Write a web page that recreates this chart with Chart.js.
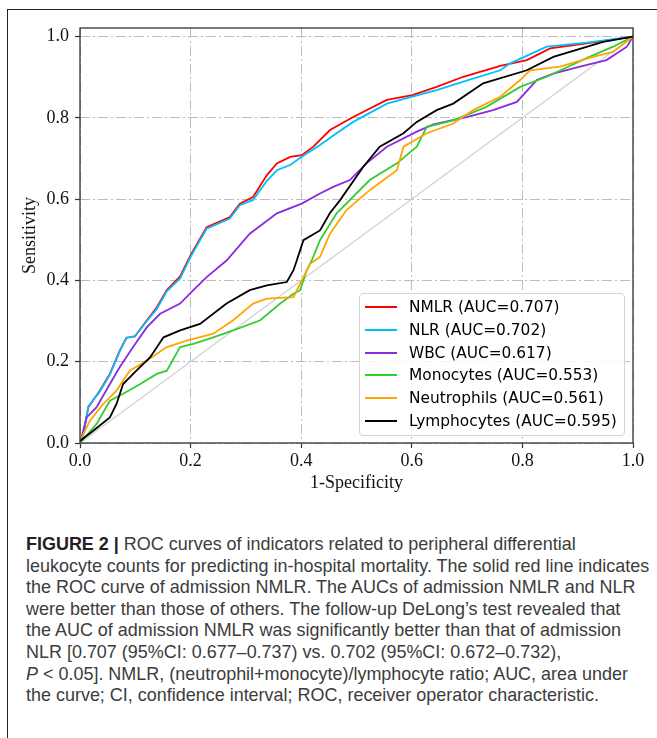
<!DOCTYPE html>
<html>
<head>
<meta charset="utf-8">
<script src="https://cdn.jsdelivr.net/npm/chart.js@4.4.0/dist/chart.umd.min.js"></script>
<style>
  html, body { margin: 0; padding: 0; background: #fff; }
  body { width: 657px; height: 738px; position: relative; overflow: hidden; }
  #frame { position: absolute; left: 7px; top: 9px; width: 700px; height: 800px;
           border-left: 1.5px solid #222; border-top: 1.5px solid #222; }
  #roc { position: absolute; left: 0; top: 0; }
  #legend { position: absolute; left: 359px; top: 293px; width: 264px; height: 139px;
            border: 1px solid #d4d4d4; border-radius: 4px; background: rgba(255,255,255,0.85);
            font-family: "DejaVu Sans", sans-serif; font-size: 15.4px; color: #000;
            padding-top: 2px; box-sizing: content-box; }
  .row { height: 22.7px; display: flex; align-items: center; white-space: nowrap; }
  .swatch { width: 32px; height: 2px; margin-left: 5px; margin-right: 12px; }
  #caption { position: absolute; left: 26px; top: 533px; transform-origin: 0 0;
             font-family: "Liberation Sans", Arial, sans-serif; font-size: 18.6px;
             line-height: 21.6px; color: #3c3c3c; white-space: nowrap; }
  #caption b { color: #222; }
</style>
</head>
<body>
<div id="frame"></div>
<canvas id="roc" width="657" height="500"></canvas>
<div id="legend"></div>
<div id="caption">
  <div class="ln"><b>FIGURE 2 |</b> ROC curves of indicators related to peripheral differential</div>
  <div class="ln" id="widest">leukocyte counts for predicting in-hospital mortality. The solid red line indicates</div>
  <div class="ln">the ROC curve of admission NMLR. The AUCs of admission NMLR and NLR</div>
  <div class="ln">were better than those of others. The follow-up DeLong’s test revealed that</div>
  <div class="ln">the AUC of admission NMLR was significantly better than that of admission</div>
  <div class="ln">NLR [0.707 (95%CI: 0.677–0.737) vs. 0.702 (95%CI: 0.672–0.732),</div>
  <div class="ln"><i>P</i> &lt; 0.05]. NMLR, (neutrophil+monocyte)/lymphocyte ratio; AUC, area under</div>
  <div class="ln">the curve; CI, confidence interval; ROC, receiver operator characteristic.</div>
</div>
<script>
// ---- datos (1-especificidad, sensibilidad) ----
const tickValues = [0, 0.2, 0.4, 0.6, 0.8, 1.0];

const fprNmlr = [0, 0.006, 0.015, 0.036, 0.054, 0.072, 0.084, 0.099, 0.121, 0.139, 0.157, 0.181, 0.200, 0.229, 0.271, 0.289, 0.313, 0.338, 0.356, 0.380, 0.401, 0.422, 0.452, 0.494, 0.555, 0.601, 0.645, 0.693, 0.760, 0.808, 0.850, 0.916, 1.0];
const tprNmlr = [0, 0.022, 0.088, 0.129, 0.170, 0.228, 0.259, 0.262, 0.302, 0.334, 0.376, 0.410, 0.462, 0.531, 0.556, 0.589, 0.605, 0.659, 0.688, 0.704, 0.708, 0.729, 0.770, 0.802, 0.844, 0.856, 0.876, 0.901, 0.928, 0.942, 0.971, 0.983, 1.0];

const fprNlr = [0, 0.006, 0.015, 0.036, 0.054, 0.072, 0.084, 0.099, 0.121, 0.139, 0.157, 0.181, 0.200, 0.229, 0.271, 0.289, 0.313, 0.338, 0.356, 0.380, 0.401, 0.434, 0.464, 0.494, 0.555, 0.601, 0.645, 0.693, 0.760, 0.778, 0.844, 0.916, 1.0];
const tprNlr = [0, 0.020, 0.090, 0.127, 0.168, 0.226, 0.259, 0.262, 0.300, 0.330, 0.373, 0.405, 0.458, 0.527, 0.552, 0.585, 0.598, 0.645, 0.671, 0.684, 0.704, 0.733, 0.762, 0.790, 0.835, 0.852, 0.868, 0.889, 0.917, 0.934, 0.975, 0.985, 1.0];

const fprWbc = [0, 0.012, 0.030, 0.054, 0.072, 0.096, 0.121, 0.145, 0.181, 0.205, 0.229, 0.265, 0.307, 0.356, 0.401, 0.434, 0.458, 0.488, 0.518, 0.555, 0.609, 0.639, 0.699, 0.747, 0.790, 0.826, 0.856, 0.904, 0.952, 0.989, 1.0];
const tprWbc = [0, 0.063, 0.088, 0.145, 0.187, 0.236, 0.285, 0.318, 0.343, 0.376, 0.408, 0.449, 0.515, 0.565, 0.589, 0.614, 0.630, 0.647, 0.688, 0.729, 0.766, 0.784, 0.802, 0.819, 0.839, 0.893, 0.909, 0.926, 0.942, 0.975, 1.0];

const fprMono = [0, 0.030, 0.054, 0.078, 0.109, 0.139, 0.157, 0.181, 0.205, 0.241, 0.277, 0.326, 0.362, 0.386, 0.398, 0.410, 0.419, 0.434, 0.464, 0.524, 0.573, 0.609, 0.627, 0.675, 0.735, 0.796, 0.844, 0.916, 0.964, 1.0];
const tprMono = [0, 0.047, 0.104, 0.121, 0.145, 0.170, 0.178, 0.236, 0.244, 0.260, 0.277, 0.302, 0.343, 0.367, 0.376, 0.425, 0.449, 0.499, 0.565, 0.647, 0.688, 0.729, 0.778, 0.794, 0.827, 0.876, 0.901, 0.947, 0.975, 1.0];

const fprNeut = [0, 0.018, 0.042, 0.066, 0.090, 0.121, 0.157, 0.193, 0.241, 0.277, 0.313, 0.338, 0.386, 0.398, 0.416, 0.434, 0.452, 0.482, 0.524, 0.573, 0.585, 0.627, 0.675, 0.711, 0.760, 0.796, 0.814, 0.868, 0.928, 0.964, 1.0];
const tprNeut = [0.005, 0.055, 0.096, 0.129, 0.178, 0.203, 0.236, 0.252, 0.269, 0.302, 0.343, 0.355, 0.359, 0.392, 0.441, 0.458, 0.515, 0.573, 0.622, 0.671, 0.729, 0.762, 0.786, 0.819, 0.852, 0.893, 0.917, 0.926, 0.950, 0.962, 1.0];

const fprLymph = [0, 0.024, 0.054, 0.066, 0.078, 0.102, 0.127, 0.151, 0.181, 0.217, 0.265, 0.307, 0.338, 0.374, 0.386, 0.392, 0.404, 0.434, 0.452, 0.470, 0.512, 0.542, 0.585, 0.609, 0.645, 0.675, 0.729, 0.808, 0.856, 0.946, 1.0];
const tprLymph = [0.005, 0.030, 0.063, 0.096, 0.145, 0.178, 0.211, 0.260, 0.277, 0.293, 0.343, 0.376, 0.388, 0.396, 0.425, 0.449, 0.499, 0.523, 0.566, 0.597, 0.679, 0.729, 0.762, 0.790, 0.819, 0.835, 0.885, 0.917, 0.950, 0.987, 1.0];

const fprChance = [0, 1];
const tprChance = [0, 1];

const seriesLabels = ["NMLR (AUC=0.707)", "NLR (AUC=0.702)", "WBC (AUC=0.617)", "Monocytes (AUC=0.553)", "Neutrophils (AUC=0.561)", "Lymphocytes (AUC=0.595)"];
const seriesColors = ["#ff0000", "#00bfff", "#8a2be2", "#32cd32", "#ffa500", "#000000"];

function toPoints(xs, ys) {
  return xs.map((x, i) => ({ x: x, y: ys[i] }));
}

const curves = [
  toPoints(fprNmlr, tprNmlr),
  toPoints(fprNlr, tprNlr),
  toPoints(fprWbc, tprWbc),
  toPoints(fprMono, tprMono),
  toPoints(fprNeut, tprNeut),
  toPoints(fprLymph, tprLymph)
];

let datasets = curves.map((pts, i) => ({
  label: seriesLabels[i],
  data: pts,
  borderColor: seriesColors[i],
  borderWidth: 1.8,
  pointRadius: 0,
  tension: 0,
  order: 6 - i
}));
datasets.push({
  label: "",
  data: toPoints(fprChance, tprChance),
  borderColor: "#cfcfcf",
  borderWidth: 1.2,
  pointRadius: 0,
  order: 10
});

// marco completo del area del grafico (arriba y derecha incluidos)
const boxPlugin = {
  id: "box",
  afterDatasetsDraw(chart) {
    const a = chart.chartArea;
    const c = chart.ctx;
    c.save();
    c.strokeStyle = "#333";
    c.lineWidth = 1.3;
    c.strokeRect(a.left, a.top, a.right - a.left, a.bottom - a.top);
    c.restore();
  }
};

const serif = { family: "'Liberation Serif', 'Times New Roman', serif", size: 18 };

const ctx = document.getElementById("roc").getContext("2d");
let rocChart = new Chart(ctx, {
  type: "line",
  data: { datasets: datasets },
  plugins: [boxPlugin],
  options: {
    responsive: false,
    animation: false,
    devicePixelRatio: 1,
    layout: { padding: { left: 10, right: 24, top: 28, bottom: 0 } },
    plugins: { legend: { display: false }, tooltip: { enabled: false } },
    scales: {
      x: {
        type: "linear",
        min: 0,
        max: 1,
        afterBuildTicks: s => { s.ticks = tickValues.map(v => ({ value: v })); },
        afterFit: s => { s.height = 57; },
        ticks: { font: serif, color: "#111", padding: 2, maxRotation: 0,
                 callback: v => Number(v).toFixed(1) },
        grid: { color: "#bdbdbd", lineWidth: 1, tickColor: "#333", tickLength: 5, tickWidth: 1.2 },
        border: { display: false, dash: [10, 3, 2, 3] },
        title: { display: true, text: "1-Specificity", font: serif, color: "#111",
                 padding: { top: 0, bottom: 6 } }
      },
      y: {
        type: "linear",
        min: 0,
        max: 1.021,
        afterBuildTicks: s => { s.ticks = tickValues.map(v => ({ value: v })); },
        afterFit: s => { s.width = 70; },
        ticks: { font: serif, color: "#111", padding: 6,
                 callback: v => Number(v).toFixed(1) },
        grid: { color: "#bdbdbd", lineWidth: 1, tickColor: "#333", tickLength: 5, tickWidth: 1.2 },
        border: { display: false, dash: [10, 3, 2, 3] },
        title: { display: true, text: "Sensitivity", font: serif, color: "#111",
                 padding: { top: 9, bottom: 0 } }
      }
    }
  }
});

// leyenda en HTML a partir de los datasets
const legendDiv = document.getElementById("legend");
rocChart.data.datasets.filter(d => d.label).forEach(d => {
  const row = document.createElement("div");
  row.className = "row";
  const sw = document.createElement("span");
  sw.className = "swatch";
  sw.style.background = d.borderColor;
  const tx = document.createElement("span");
  tx.textContent = d.label;
  row.appendChild(sw);
  row.appendChild(tx);
  legendDiv.appendChild(row);
});

// ajustar el ancho del pie de figura
const cap = document.getElementById("caption");
const w = document.getElementById("widest").scrollWidth;
cap.style.transform = "scaleX(" + (623 / w) + ")";
</script>
</body>
</html>
